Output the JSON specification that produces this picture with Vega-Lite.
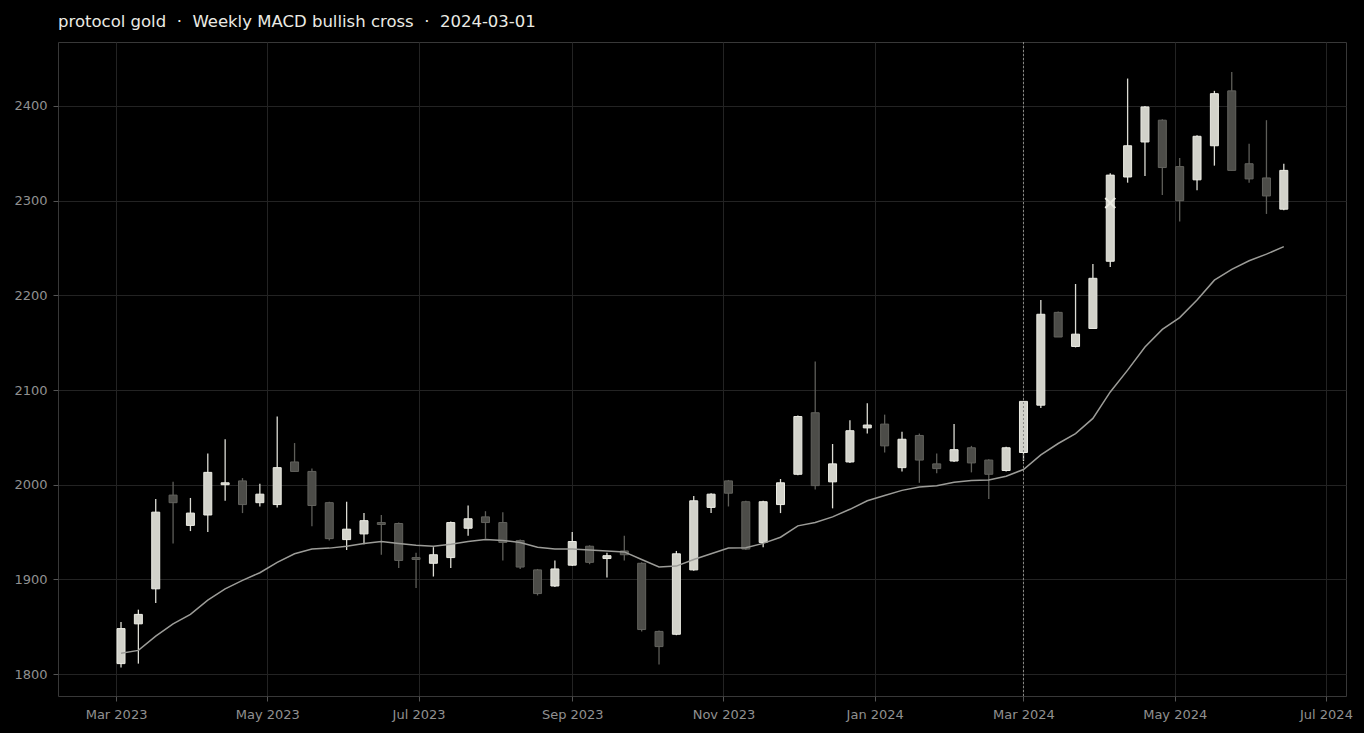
{
  "$schema": "https://vega.github.io/schema/vega-lite/v6.json",
  "width": 1288,
  "height": 654,
  "autosize": {"type": "none"},
  "padding": {"left": 58, "top": 42, "right": 18, "bottom": 37},
  "background": "#000000",
  "title": {
    "text": "protocol gold\u00a0 ·\u00a0 Weekly MACD bullish cross\u00a0 ·\u00a0 2024-03-01",
    "anchor": "start",
    "frame": "group",
    "font": "DejaVu Sans",
    "fontSize": 16.5,
    "fontWeight": "normal",
    "color": "#ebebe4",
    "baseline": "alphabetic",
    "offset": -2
  },
  "config": {
    "view": {"stroke": "#383838", "fill": "#000000"},
    "axis": {
      "zindex": 1,
      "domain": false,
      "grid": true,
      "gridColor": "#232323",
      "gridWidth": 1,
      "tickColor": "#555555",
      "tickSize": 5,
      "labelColor": "#909090",
      "labelFont": "DejaVu Sans",
      "labelFontSize": 13,
      "labelPadding": 6,
      "title": null
    }
  },
  "data": {
    "values": [
      {"date": "2023-03-03", "open": 1811, "high": 1855, "low": 1807, "close": 1848, "ema": 1822},
      {"date": "2023-03-10", "open": 1853, "high": 1868, "low": 1811, "close": 1863, "ema": 1825},
      {"date": "2023-03-17", "open": 1890, "high": 1985, "low": 1875, "close": 1971, "ema": 1840},
      {"date": "2023-03-24", "open": 1989, "high": 2003, "low": 1938, "close": 1981, "ema": 1853},
      {"date": "2023-03-31", "open": 1957, "high": 1986, "low": 1951, "close": 1970, "ema": 1863},
      {"date": "2023-04-07", "open": 1968, "high": 2033, "low": 1950, "close": 2013, "ema": 1878},
      {"date": "2023-04-14", "open": 2000, "high": 2048, "low": 1983, "close": 2002, "ema": 1890},
      {"date": "2023-04-21", "open": 2004, "high": 2007, "low": 1970, "close": 1979, "ema": 1899},
      {"date": "2023-04-28", "open": 1981, "high": 2001, "low": 1977, "close": 1990, "ema": 1907},
      {"date": "2023-05-05", "open": 1979, "high": 2072, "low": 1976, "close": 2018, "ema": 1918},
      {"date": "2023-05-12", "open": 2024, "high": 2044, "low": 2014, "close": 2014, "ema": 1927},
      {"date": "2023-05-19", "open": 2014, "high": 2017, "low": 1956, "close": 1978, "ema": 1932},
      {"date": "2023-05-26", "open": 1981, "high": 1982, "low": 1941, "close": 1943, "ema": 1933},
      {"date": "2023-06-02", "open": 1942, "high": 1982, "low": 1931, "close": 1953, "ema": 1935},
      {"date": "2023-06-09", "open": 1948, "high": 1970, "low": 1937, "close": 1962, "ema": 1938},
      {"date": "2023-06-16", "open": 1960, "high": 1968, "low": 1926, "close": 1958, "ema": 1940},
      {"date": "2023-06-23", "open": 1959, "high": 1960, "low": 1912, "close": 1920, "ema": 1938},
      {"date": "2023-06-30", "open": 1923, "high": 1928, "low": 1891, "close": 1921, "ema": 1936},
      {"date": "2023-07-07", "open": 1917, "high": 1934, "low": 1903, "close": 1926, "ema": 1935},
      {"date": "2023-07-14", "open": 1923, "high": 1961, "low": 1912, "close": 1960, "ema": 1937},
      {"date": "2023-07-21", "open": 1954, "high": 1978, "low": 1946, "close": 1964, "ema": 1940},
      {"date": "2023-07-28", "open": 1966, "high": 1972, "low": 1943, "close": 1960, "ema": 1942},
      {"date": "2023-08-04", "open": 1960, "high": 1971, "low": 1920, "close": 1939, "ema": 1941},
      {"date": "2023-08-11", "open": 1941, "high": 1942, "low": 1911, "close": 1913, "ema": 1939},
      {"date": "2023-08-18", "open": 1910, "high": 1911, "low": 1883, "close": 1885, "ema": 1934},
      {"date": "2023-08-25", "open": 1893, "high": 1920, "low": 1892, "close": 1911, "ema": 1932},
      {"date": "2023-09-01", "open": 1915, "high": 1950, "low": 1914, "close": 1940, "ema": 1932},
      {"date": "2023-09-08", "open": 1935, "high": 1936, "low": 1916, "close": 1918, "ema": 1931},
      {"date": "2023-09-15", "open": 1922, "high": 1928, "low": 1902, "close": 1925, "ema": 1930},
      {"date": "2023-09-22", "open": 1930, "high": 1946, "low": 1920, "close": 1926, "ema": 1929},
      {"date": "2023-09-29", "open": 1917, "high": 1918, "low": 1845, "close": 1847, "ema": 1921},
      {"date": "2023-10-06", "open": 1845, "high": 1846, "low": 1810, "close": 1829, "ema": 1913},
      {"date": "2023-10-13", "open": 1842, "high": 1930, "low": 1841, "close": 1927, "ema": 1914},
      {"date": "2023-10-20", "open": 1910, "high": 1988, "low": 1909, "close": 1983, "ema": 1921},
      {"date": "2023-10-27", "open": 1976, "high": 1991, "low": 1970, "close": 1990, "ema": 1927},
      {"date": "2023-11-03", "open": 2004, "high": 2005, "low": 1977, "close": 1991, "ema": 1933},
      {"date": "2023-11-10", "open": 1982, "high": 1983, "low": 1931, "close": 1932, "ema": 1933.5},
      {"date": "2023-11-17", "open": 1939, "high": 1983, "low": 1934, "close": 1982, "ema": 1938},
      {"date": "2023-11-24", "open": 1979, "high": 2006, "low": 1970, "close": 2002, "ema": 1944.5},
      {"date": "2023-12-01", "open": 2011, "high": 2073, "low": 2010, "close": 2072, "ema": 1956.5},
      {"date": "2023-12-08", "open": 2076, "high": 2130, "low": 1995, "close": 1999, "ema": 1960},
      {"date": "2023-12-15", "open": 2003, "high": 2043, "low": 1975, "close": 2022, "ema": 1966},
      {"date": "2023-12-22", "open": 2024, "high": 2068, "low": 2023, "close": 2057, "ema": 1974},
      {"date": "2023-12-29", "open": 2060, "high": 2086, "low": 2054, "close": 2063, "ema": 1983},
      {"date": "2024-01-05", "open": 2064, "high": 2074, "low": 2034, "close": 2041, "ema": 1988.5},
      {"date": "2024-01-12", "open": 2018, "high": 2056, "low": 2014, "close": 2048, "ema": 1994},
      {"date": "2024-01-19", "open": 2052, "high": 2054, "low": 2002, "close": 2026, "ema": 1997.5},
      {"date": "2024-01-26", "open": 2022, "high": 2033, "low": 2012, "close": 2017, "ema": 1999},
      {"date": "2024-02-02", "open": 2025, "high": 2064, "low": 2024, "close": 2037, "ema": 2002.5},
      {"date": "2024-02-09", "open": 2039, "high": 2041, "low": 2013, "close": 2023, "ema": 2004.5},
      {"date": "2024-02-16", "open": 2026, "high": 2027, "low": 1985, "close": 2011, "ema": 2005},
      {"date": "2024-02-23", "open": 2015, "high": 2040, "low": 2014, "close": 2039, "ema": 2009},
      {"date": "2024-03-01", "open": 2034, "high": 2088, "low": 2025, "close": 2088, "ema": 2016},
      {"date": "2024-03-08", "open": 2084, "high": 2195, "low": 2081, "close": 2180, "ema": 2031.5},
      {"date": "2024-03-15", "open": 2182, "high": 2183, "low": 2156, "close": 2156, "ema": 2043.5},
      {"date": "2024-03-22", "open": 2146, "high": 2212, "low": 2145, "close": 2159, "ema": 2054},
      {"date": "2024-03-29", "open": 2165, "high": 2233, "low": 2165, "close": 2218, "ema": 2070},
      {"date": "2024-04-05", "open": 2236, "high": 2329, "low": 2230, "close": 2327, "ema": 2098},
      {"date": "2024-04-12", "open": 2325, "high": 2429, "low": 2319, "close": 2358, "ema": 2121},
      {"date": "2024-04-19", "open": 2362, "high": 2400, "low": 2326, "close": 2399, "ema": 2145.5},
      {"date": "2024-04-26", "open": 2385, "high": 2386, "low": 2306, "close": 2335, "ema": 2164},
      {"date": "2024-05-03", "open": 2336, "high": 2345, "low": 2278, "close": 2300, "ema": 2176.5},
      {"date": "2024-05-10", "open": 2322, "high": 2369, "low": 2311, "close": 2368, "ema": 2195},
      {"date": "2024-05-17", "open": 2358, "high": 2416, "low": 2337, "close": 2413, "ema": 2216},
      {"date": "2024-05-24", "open": 2416, "high": 2436, "low": 2332, "close": 2332, "ema": 2227.5},
      {"date": "2024-05-31", "open": 2339, "high": 2360, "low": 2319, "close": 2323, "ema": 2236.5},
      {"date": "2024-06-07", "open": 2324, "high": 2385, "low": 2286, "close": 2305, "ema": 2243.5},
      {"date": "2024-06-14", "open": 2291, "high": 2339, "low": 2290, "close": 2332, "ema": 2251.5}
    ]
  },
  "encoding": {
    "x": {
      "field": "date",
      "type": "temporal",
      "scale": {
        "type": "utc",
        "padding": 0,
        "domain": [
          {"year": 2023, "month": 2, "date": 5, "hours": 14, "utc": true},
          {"year": 2024, "month": 7, "date": 9, "hours": 2, "utc": true}
        ]
      },
      "axis": {
        "format": "%b %Y",
        "values": [
          {"year": 2023, "month": 3, "date": 1, "utc": true},
          {"year": 2023, "month": 5, "date": 1, "utc": true},
          {"year": 2023, "month": 7, "date": 1, "utc": true},
          {"year": 2023, "month": 9, "date": 1, "utc": true},
          {"year": 2023, "month": 11, "date": 1, "utc": true},
          {"year": 2024, "month": 1, "date": 1, "utc": true},
          {"year": 2024, "month": 3, "date": 1, "utc": true},
          {"year": 2024, "month": 5, "date": 1, "utc": true},
          {"year": 2024, "month": 7, "date": 1, "utc": true}
        ],
        "labelPadding": 7
      }
    }
  },
  "layer": [
    {
      "mark": {"type": "rule", "strokeWidth": 1.3},
      "encoding": {
        "y": {
          "field": "low",
          "type": "quantitative",
          "scale": {"domain": [1776.8, 2467.6], "nice": false, "zero": false},
          "axis": {"values": [1800, 1900, 2000, 2100, 2200, 2300, 2400], "format": "d"}
        },
        "y2": {"field": "high"},
        "color": {
          "condition": {"test": "datum.close >= datum.open", "value": "#dcdcd4"},
          "value": "#5e5e59"
        }
      }
    },
    {
      "mark": {"type": "bar", "width": 8, "strokeWidth": 1},
      "encoding": {
        "y": {"field": "open", "type": "quantitative"},
        "y2": {"field": "close"},
        "fill": {
          "condition": {"test": "datum.close >= datum.open", "value": "#d2d2ca"},
          "value": "#4c4c48"
        },
        "stroke": {
          "condition": {"test": "datum.close >= datum.open", "value": "#ecece4"},
          "value": "#62625d"
        }
      }
    },
    {
      "mark": {"type": "line", "color": "#9c9c98", "strokeWidth": 1.5},
      "encoding": {
        "y": {"field": "ema", "type": "quantitative"}
      }
    },
    {
      "data": {"values": [{"level": 2088.4}]},
      "mark": {"type": "rule", "color": "#c8c8c0", "strokeWidth": 1.6},
      "encoding": {"y": {"field": "level", "type": "quantitative"}}
    },
    {
      "data": {"values": [{"level": 2297.5}]},
      "mark": {"type": "rule", "color": "#a8a8a4", "strokeWidth": 1.4, "strokeDash": [6, 3]},
      "encoding": {"y": {"field": "level", "type": "quantitative"}}
    },
    {
      "data": {"values": [{"level": 1919.4}]},
      "mark": {"type": "rule", "color": "#858582", "strokeWidth": 1.4, "strokeDash": [6, 3]},
      "encoding": {"y": {"field": "level", "type": "quantitative"}}
    },
    {
      "data": {"values": [{"signal": "2024-03-01"}]},
      "mark": {"type": "rule", "color": "#8a8a86", "strokeWidth": 1, "strokeDash": [2, 2]},
      "encoding": {"x": {"field": "signal", "type": "temporal"}}
    },
    {
      "data": {"values": [{"cross": "2024-04-05", "price": 2297.5}]},
      "mark": {"type": "point", "shape": "M-1,-1L1,1M-1,1L1,-1", "size": 100, "filled": false, "stroke": "#ecece4", "strokeWidth": 2, "opacity": 1},
      "encoding": {
        "x": {"field": "cross", "type": "temporal"},
        "y": {"field": "price", "type": "quantitative"}
      }
    }
  ]
}
